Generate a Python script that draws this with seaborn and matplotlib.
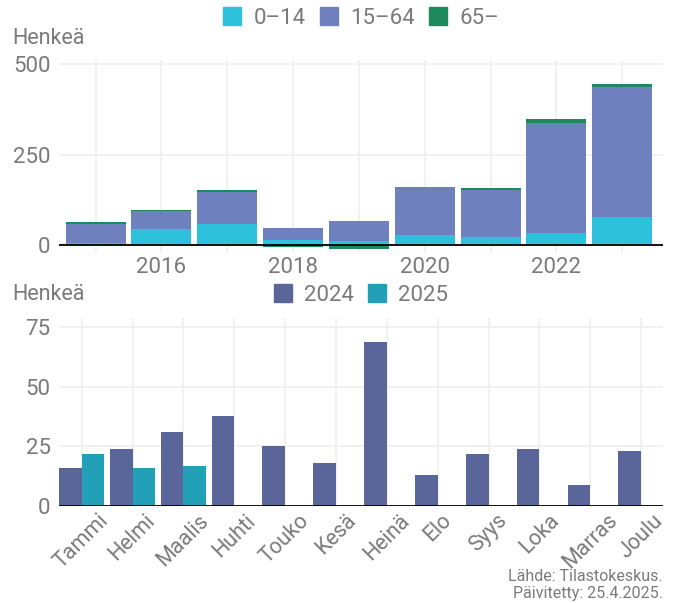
import matplotlib
matplotlib.use("Agg")
import matplotlib.pyplot as plt
from matplotlib.patches import Patch
import seaborn as sns
import numpy as np
import pandas as pd

# yearly net migration by age group
years = [2015, 2016, 2017, 2018, 2019, 2020, 2021, 2022, 2023]
age_0_14 = [6, 44, 58, 14, 11, 28, 22, 33, 77]
age_15_64 = [52, 50, 88, 33, 55, 132, 131, 304, 359]
age_65 = [5, 3, 6, -5, -10, 0, 4, 11, 9]
age_labels = ["0–14", "15–64", "65–"]

# monthly values
months = ["Tammi", "Helmi", "Maalis", "Huhti", "Touko", "Kesä",
          "Heinä", "Elo", "Syys", "Loka", "Marras", "Joulu"]
vals_2024 = [16, 24, 31, 38, 25, 18, 69, 13, 22, 24, 9, 23]
vals_2025 = [22, 16, 17]
year_labels = ["2024", "2025"]

c_young = "#2dc1dc"
c_mid = "#6f80be"
c_old = "#1c8a5d"
c_2024 = "#5a6699"
c_2025 = "#22a0b7"
txt = "#7a7a7a"
grid_c = "#f0f0f0"

sns.set_theme(style="white")
plt.rcParams["font.family"] = ["Roboto", "DejaVu Sans"]

fig = plt.figure(figsize=(6.81, 6.03), dpi=100)
ax1 = fig.add_axes([0.0866, 0.5804, 0.887, 0.320])
ax2 = fig.add_axes([0.0866, 0.1609, 0.887, 0.3118])

# top: stacked bars drawn as overlays
a = np.array(age_0_14)
b = np.array(age_15_64)
c = np.array(age_65)
xs = [str(y) for y in years]
common = dict(width=0.91, saturation=1, errorbar=None, linewidth=0, ax=ax1)
sns.barplot(x=xs, y=a + b + np.maximum(c, 0), color=c_old, **common)
sns.barplot(x=xs, y=a + b, color=c_mid, **common)
sns.barplot(x=xs, y=a, color=c_young, **common)
sns.barplot(x=xs, y=np.minimum(c, 0), color=c_old, **common)

ax1.set_xlim(-0.556, 8.62)
ax1.set_ylim(-22, 511)
ax1.set_yticks([0, 250, 500])
ax1.set_xticks(range(len(years)))
ax1.set_xticklabels([str(y) if y % 2 == 0 else "" for y in years])

# bottom: monthly bars dodged by year
df = pd.DataFrame({
    "month": months + months[:len(vals_2025)],
    "value": vals_2024 + vals_2025,
    "year": ["2024"] * len(vals_2024) + ["2025"] * len(vals_2025),
})
sns.barplot(data=df, x="month", y="value", hue="year", order=months,
            hue_order=year_labels, palette=[c_2024, c_2025], width=0.892,
            saturation=1, errorbar=None, linewidth=0, legend=False, ax=ax2)
ax2.set_xlim(-0.446, 11.43)
ax2.set_ylim(0, 79)
ax2.set_yticks([0, 25, 50, 75])
ax2.set_xticks(range(len(months)))
ax2.set_xticklabels(months, rotation=45, ha="center")

for ax in (ax1, ax2):
    ax.axhline(0, color="black", lw=1.3, zorder=5)
    for s in ax.spines.values():
        s.set_visible(False)
    ax.set_axisbelow(True)
    ax.grid(True, color=grid_c, lw=1.3)
    ax.set_xlabel("")
    ax.set_ylabel("")
    ax.tick_params(axis="both", length=0, labelsize=16, labelcolor=txt)
    ax.tick_params(axis="y", pad=6)
ax1.tick_params(axis="x", pad=3)
ax2.tick_params(axis="x", pad=3, labelsize=15.5)

fig.text(12 / 681, 1 - 39 / 603, "Henkeä", ha="left", va="center",
         fontsize=15.5, color=txt)
fig.text(12 / 681, 1 - 295 / 603, "Henkeä", ha="left", va="center",
         fontsize=15.5, color=txt)

leg_kw = dict(loc="center", ncol=3, frameon=False, fontsize=16,
              handlelength=0.82, handleheight=0.82, handletextpad=0.55,
              columnspacing=0.63, borderpad=0, labelcolor=txt)
h1 = [Patch(color=col, label=l) for col, l in zip([c_young, c_mid, c_old], age_labels)]
fig.legend(handles=h1, bbox_to_anchor=(361 / 681, 1 - 18 / 603), **leg_kw)
h2 = [Patch(color=col, label=l) for col, l in zip([c_2024, c_2025], year_labels)]
leg_kw["ncol"] = 2
fig.legend(handles=h2, bbox_to_anchor=(361 / 681, 1 - 295 / 603), **leg_kw)

fig.text(663 / 681, 1 - 585 / 603, "Lähde: Tilastokeskus.\nPäivitetty: 25.4.2025.",
         ha="right", va="center", multialignment="right", fontsize=11.5,
         color=txt, linespacing=1.1)

fig.savefig("out.png", dpi=100)
